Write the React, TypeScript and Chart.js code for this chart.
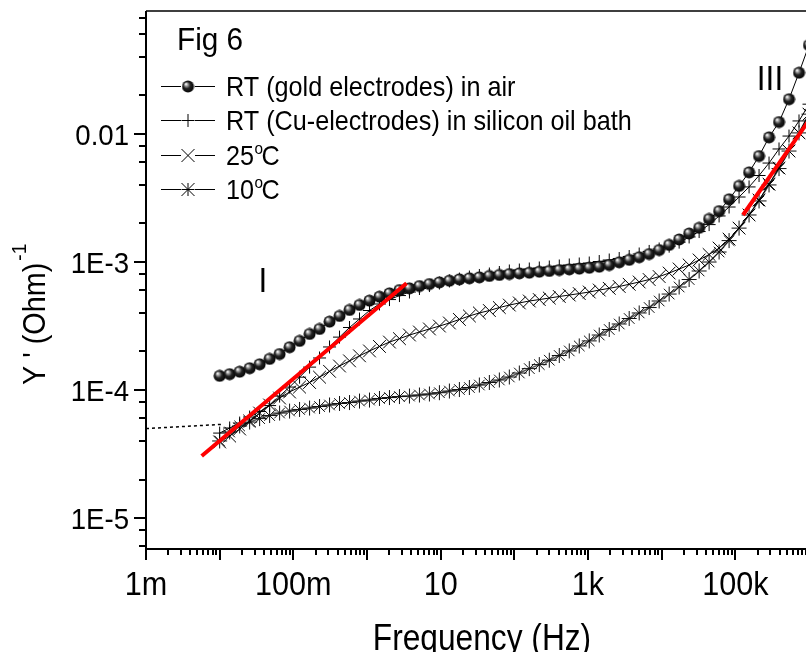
import React, { useEffect, useRef } from 'react';
import { Chart, registerables } from 'chart.js';

Chart.register(...registerables);

// ---------- data ----------
const FREQUENCIES = [
  0.01, 0.01367, 0.01868, 0.02552, 0.03487, 0.04764, 0.0651, 0.08895, 0.1215, 0.1661,
  0.2269, 0.3101, 0.4237, 0.579, 0.7911, 1.081, 1.477, 2.019, 2.759, 3.77,
  5.151, 7.039, 9.618, 13.14, 17.96, 24.54, 33.53, 45.82, 62.6, 85.54,
  116.9, 159.7, 218.3, 298.3, 407.6, 556.9, 761, 1040, 1421, 1942,
  2653, 3625, 4954, 6769, 9249, 12640, 17270, 23600, 32250, 44060,
  60210, 82270, 112400, 153600, 209900, 286800, 391900, 535400, 731600, 1000000,
];

const GOLD_AIR = [
  1.29e-4, 1.33e-4, 1.39e-4, 1.48e-4, 1.59e-4, 1.75e-4, 1.91e-4, 2.16e-4, 2.42e-4, 2.74e-4,
  3.0e-4, 3.42e-4, 3.79e-4, 4.22e-4, 4.62e-4, 4.99e-4, 5.36e-4, 5.69e-4, 6.04e-4, 6.23e-4,
  6.49e-4, 6.73e-4, 6.94e-4, 7.14e-4, 7.32e-4, 7.46e-4, 7.59e-4, 7.78e-4, 7.92e-4, 8.06e-4,
  8.16e-4, 8.25e-4, 8.4e-4, 8.51e-4, 8.66e-4, 8.77e-4, 8.87e-4, 9.02e-4, 9.19e-4, 9.47e-4,
  9.95e-4, 1.04e-3, 1.09e-3, 1.155e-3, 1.24e-3, 1.36e-3, 1.5e-3, 1.67e-3, 1.85e-3, 2.17e-3,
  2.5e-3, 3.09e-3, 3.93e-3, 5.02e-3, 6.73e-3, 9.42e-3, 1.24e-2, 1.87e-2, 3.01e-2, 4.95e-2,
];

const CU_OIL = [
  4.61e-5, 5.05e-5, 5.52e-5, 6.15e-5, 6.79e-5, 7.56e-5, 8.97e-5, 1.055e-4, 1.26e-4, 1.51e-4,
  1.78e-4, 2.17e-4, 2.59e-4, 3.08e-4, 3.59e-4, 4.18e-4, 4.7e-4, 5.09e-4, 5.47e-4, 5.83e-4,
  6.21e-4, 6.55e-4, 6.85e-4, 7.11e-4, 7.36e-4, 7.63e-4, 7.85e-4, 8.06e-4, 8.28e-4, 8.51e-4,
  8.66e-4, 8.82e-4, 8.98e-4, 9.14e-4, 9.31e-4, 9.48e-4, 9.65e-4, 9.82e-4, 1.009e-3, 1.037e-3,
  1.065e-3, 1.104e-3, 1.155e-3, 1.21e-3, 1.264e-3, 1.33e-3, 1.43e-3, 1.57e-3, 1.73e-3, 1.96e-3,
  2.29e-3, 2.69e-3, 3.22e-3, 3.86e-3, 4.74e-3, 5.93e-3, 7.64e-3, 9.64e-3, 1.265e-2, 1.71e-2,
];

const T25 = [
  3.93e-5, 4.37e-5, 4.96e-5, 5.73e-5, 6.61e-5, 7.64e-5, 8.66e-5, 9.65e-5, 1.055e-4, 1.145e-4,
  1.26e-4, 1.4e-4, 1.54e-4, 1.69e-4, 1.85e-4, 2.02e-4, 2.19e-4, 2.37e-4, 2.52e-4, 2.69e-4,
  2.84e-4, 3.0e-4, 3.16e-4, 3.34e-4, 3.56e-4, 3.79e-4, 4.0e-4, 4.18e-4, 4.41e-4, 4.61e-4,
  4.79e-4, 4.96e-4, 5.09e-4, 5.23e-4, 5.38e-4, 5.52e-4, 5.67e-4, 5.83e-4, 6.04e-4, 6.23e-4,
  6.44e-4, 6.7e-4, 6.98e-4, 7.3e-4, 7.7e-4, 8.2e-4, 8.82e-4, 9.48e-4, 1.037e-3, 1.145e-3,
  1.285e-3, 1.51e-3, 1.84e-3, 2.33e-3, 3.05e-3, 4.06e-3, 5.42e-3, 7.36e-3, 1.02e-2, 1.43e-2,
];

const T10 = [
  4.0e-5, 4.7e-5, 5.24e-5, 5.62e-5, 5.98e-5, 6.32e-5, 6.61e-5, 6.85e-5, 7.05e-5, 7.23e-5,
  7.43e-5, 7.64e-5, 7.85e-5, 7.98e-5, 8.2e-5, 8.35e-5, 8.59e-5, 8.73e-5, 8.89e-5, 8.97e-5,
  9.14e-5, 9.31e-5, 9.53e-5, 9.82e-5, 1.009e-4, 1.046e-4, 1.094e-4, 1.145e-4, 1.198e-4, 1.264e-4,
  1.358e-4, 1.47e-4, 1.58e-4, 1.71e-4, 1.86e-4, 2.02e-4, 2.21e-4, 2.42e-4, 2.69e-4, 2.97e-4,
  3.28e-4, 3.62e-4, 4.0e-4, 4.41e-4, 4.96e-4, 5.62e-4, 6.38e-4, 7.3e-4, 8.51e-4, 1.0e-3,
  1.197e-3, 1.47e-3, 1.84e-3, 2.33e-3, 3.0e-3, 4.0e-3, 5.37e-3, 7.36e-3, 1.02e-2, 1.43e-2,
];

// red fit lines (region I and III) and dotted extrapolation
const FIT_I_X = [0.0057, 3.44];
const FIT_I_Y = [3.05e-5, 6.82e-4];
const FIT_III_X = [1.27e5, 1.0e6];
const FIT_III_Y = [2.33e-3, 1.28e-2];
const EXTRAP_X = [0.001, 0.0112];
const EXTRAP_Y = [5.0e-5, 5.4e-5];

// axes
const X_MIN = 1e-3;
const X_MAX = 1e6;
const Y_MIN = 5.73e-6;
const Y_MAX = 0.0914;
const X_TICK_VALUES = [1e-3, 1e-1, 1e1, 1e3, 1e5];
const X_TICK_LABELS = ['1m', '100m', '10', '1k', '100k'];
const Y_TICK_VALUES = [1e-5, 1e-4, 1e-3, 1e-2];
const Y_TICK_LABELS = ['1E-5', '1E-4', '1E-3', '0.01'];

const X_TITLE = 'Frequency (Hz)';
const Y_TITLE = "Y ' (Ohm)";
const Y_TITLE_SUP = '-1';
const FIG_LABEL = 'Fig 6';
const REGION_LABELS = ['I', 'III'];
const LEGEND_LABELS = [
  { main: 'RT (gold electrodes) in air', sup: '', tail: '' },
  { main: 'RT (Cu-electrodes) in silicon oil bath', sup: '', tail: '' },
  { main: '25', sup: 'o', tail: 'C' },
  { main: '10', sup: 'o', tail: 'C' },
];

const FONT = '"Liberation Sans", Arial, sans-serif';

function pts(xs: number[], ys: number[]) {
  return xs.map((x, i) => ({ x, y: ys[i] }));
}

function txt(ctx: CanvasRenderingContext2D, s: string, x: number, y: number, size: number, sx = 1, align: CanvasTextAlign = 'left') {
  ctx.save();
  ctx.font = `${size}px ${FONT}`;
  ctx.textAlign = align;
  ctx.textBaseline = 'alphabetic';
  ctx.fillStyle = '#000';
  ctx.translate(x, y);
  ctx.scale(sx, 1);
  ctx.fillText(s, 0, 0);
  const w = ctx.measureText(s).width * sx;
  ctx.restore();
  return w;
}

function makeBall() {
  const c = document.createElement('canvas');
  c.width = 13;
  c.height = 13;
  const b = c.getContext('2d')!;
  const g = b.createRadialGradient(4.3, 4, 0.4, 6.5, 6.5, 6.5);
  g.addColorStop(0, '#ffffff');
  g.addColorStop(0.18, '#a8a8a8');
  g.addColorStop(0.5, '#222222');
  g.addColorStop(1, '#000000');
  b.fillStyle = g;
  b.beginPath();
  b.arc(6.5, 6.5, 6, 0, Math.PI * 2);
  b.fill();
  return c;
}

function drawMarker(ctx: CanvasRenderingContext2D, kind: string, x: number, y: number, ball: HTMLCanvasElement) {
  ctx.save();
  ctx.strokeStyle = '#000';
  ctx.lineWidth = 1;
  ctx.beginPath();
  if (kind === 'ball') {
    ctx.drawImage(ball, x - 6.5, y - 6.5);
  } else {
    const r = 6.5;
    if (kind === 'cross' || kind === 'star') {
      ctx.moveTo(x - r, y); ctx.lineTo(x + r, y);
      ctx.moveTo(x, y - r); ctx.lineTo(x, y + r);
    }
    if (kind === 'x' || kind === 'star') {
      ctx.moveTo(x - r, y - r); ctx.lineTo(x + r, y + r);
      ctx.moveTo(x - r, y + r); ctx.lineTo(x + r, y - r);
    }
    ctx.stroke();
  }
  ctx.restore();
}

export default function App() {
  const ref = useRef<HTMLCanvasElement>(null);

  useEffect(() => {
    const canvas = ref.current;
    if (!canvas) return;
    const ball = makeBall();

    const decor = {
      id: 'decor',
      afterDraw(chart: any) {
        const ctx: CanvasRenderingContext2D = chart.ctx;
        const a = chart.chartArea;
        const xs = chart.scales.x;
        const ys = chart.scales.y;
        ctx.save();
        ctx.strokeStyle = '#000';
        ctx.lineCap = 'butt';

        // frame
        ctx.lineWidth = 2;
        ctx.beginPath();
        ctx.moveTo(a.left, a.top); ctx.lineTo(a.left, a.bottom + 1);
        ctx.moveTo(a.left - 1, a.bottom); ctx.lineTo(a.right, a.bottom);
        ctx.stroke();
        ctx.lineWidth = 1.5;
        ctx.beginPath();
        ctx.moveTo(a.left, a.top); ctx.lineTo(a.right, a.top);
        ctx.moveTo(a.right, a.top); ctx.lineTo(a.right, a.bottom);
        ctx.stroke();

        // y ticks
        ctx.lineWidth = 2;
        ctx.beginPath();
        for (let n = -6; n <= -1; n++) {
          for (const m of [1, 2, 4, 6, 8]) {
            const v = m * Math.pow(10, n);
            if (v < Y_MIN || v > Y_MAX) continue;
            const py = Math.round(ys.getPixelForValue(v));
            const len = m === 1 ? 12 : 7;
            ctx.moveTo(a.left - len, py);
            ctx.lineTo(a.left, py);
          }
        }
        // x ticks
        for (let n = -3; n <= 6; n++) {
          for (let m = 1; m <= 9; m++) {
            const v = m * Math.pow(10, n);
            if (v < X_MIN * 0.999 || v > X_MAX * 1.001) continue;
            const px = Math.round(xs.getPixelForValue(v));
            const len = m === 1 ? 11 : 6;
            ctx.moveTo(px, a.bottom);
            ctx.lineTo(px, a.bottom + len);
          }
        }
        ctx.stroke();

        // tick labels
        Y_TICK_VALUES.forEach((v, i) => {
          const py = ys.getPixelForValue(v);
          txt(ctx, Y_TICK_LABELS[i], 129, py + 10.5, 30, 0.92, 'right');
        });
        X_TICK_VALUES.forEach((v, i) => {
          const px = xs.getPixelForValue(v);
          txt(ctx, X_TICK_LABELS[i], px, 595, 34, 0.9, 'center');
        });

        // axis titles
        txt(ctx, X_TITLE, 482, 650, 36, 0.88, 'center');
        ctx.save();
        ctx.translate(45, 385);
        ctx.rotate(-Math.PI / 2);
        const tw = txt(ctx, Y_TITLE, 0, 0, 32, 0.9, 'left');
        txt(ctx, Y_TITLE_SUP, tw + 2, -19, 20, 0.95, 'left');
        ctx.restore();

        // figure label and region labels
        txt(ctx, FIG_LABEL, 177, 50, 32, 0.93, 'left');
        txt(ctx, REGION_LABELS[0], 263, 292, 35, 0.9, 'center');
        txt(ctx, REGION_LABELS[1], 770, 90, 35, 0.9, 'center');

        // legend
        const rows = [86, 120, 155, 189];
        const kinds = ['ball', 'cross', 'x', 'star'];
        rows.forEach((cy, i) => {
          ctx.lineWidth = 1;
          ctx.strokeStyle = '#000';
          ctx.beginPath();
          ctx.moveTo(161, cy + 0.5); ctx.lineTo(181, cy + 0.5);
          ctx.moveTo(195, cy + 0.5); ctx.lineTo(215, cy + 0.5);
          ctx.stroke();
          drawMarker(ctx, kinds[i], 188, cy + 0.5, ball);
          const L = LEGEND_LABELS[i];
          const base = cy + 10;
          const w = txt(ctx, L.main, 226, base, 28, 0.9, 'left');
          if (L.sup) {
            const w2 = txt(ctx, L.sup, 226 + w + 0.5, base - 11, 17, 0.9, 'left');
            txt(ctx, L.tail, 226 + w + w2 - 1, base, 28, 0.9, 'left');
          }
        });
        ctx.restore();
      },
    };

    const chart = new Chart(canvas, {
      type: 'line',
      data: {
        datasets: [
          {
            label: 'fit I',
            data: pts(FIT_I_X, FIT_I_Y),
            borderColor: '#ff0000',
            borderWidth: 4,
            pointRadius: 0,
            order: 0,
          },
          {
            label: 'fit III',
            data: pts(FIT_III_X, FIT_III_Y),
            borderColor: '#ff0000',
            borderWidth: 4,
            pointRadius: 0,
            order: 0,
          },
          {
            label: LEGEND_LABELS[0].main,
            data: pts(FREQUENCIES, GOLD_AIR),
            borderColor: '#000',
            borderWidth: 1,
            pointStyle: ball as any,
            pointRadius: 6,
            order: 1,
          },
          {
            label: LEGEND_LABELS[1].main,
            data: pts(FREQUENCIES, CU_OIL),
            borderColor: '#000',
            borderWidth: 1,
            pointStyle: 'cross',
            pointRadius: 6.5,
            pointBorderColor: '#000',
            pointBorderWidth: 1,
            pointBackgroundColor: 'rgba(0,0,0,0)',
            order: 2,
          },
          {
            label: '25oC',
            data: pts(FREQUENCIES, T25),
            borderColor: '#000',
            borderWidth: 1,
            pointStyle: 'crossRot',
            pointRadius: 9,
            pointBorderColor: '#000',
            pointBorderWidth: 1,
            pointBackgroundColor: 'rgba(0,0,0,0)',
            order: 3,
          },
          {
            label: '10oC',
            data: pts(FREQUENCIES, T10),
            borderColor: '#555',
            borderWidth: 1.5,
            pointStyle: 'star',
            pointRadius: 7.5,
            pointBorderColor: '#111',
            pointBorderWidth: 1,
            pointBackgroundColor: 'rgba(0,0,0,0)',
            order: 4,
          },
          {
            label: 'extrapolation',
            data: pts(EXTRAP_X, EXTRAP_Y),
            borderColor: '#000',
            borderWidth: 1.5,
            borderDash: [3, 3],
            pointRadius: 0,
            order: 5,
          },
        ],
      },
      options: {
        animation: false,
        responsive: false,
        maintainAspectRatio: false,
        devicePixelRatio: 1,
        events: [],
        layout: { padding: { left: 146, top: 11, right: 31, bottom: 131 } },
        elements: { line: { tension: 0 } },
        plugins: { legend: { display: false }, tooltip: { enabled: false }, title: { display: false } },
        scales: {
          x: { type: 'logarithmic', min: X_MIN, max: X_MAX, display: false, bounds: 'data' },
          y: { type: 'logarithmic', min: Y_MIN, max: Y_MAX, display: false, bounds: 'data' },
        },
      } as any,
      plugins: [decor],
    });
    return () => chart.destroy();
  }, []);

  return (
    <div style={{ position: 'fixed', left: 0, top: 0, width: 806, height: 652, overflow: 'hidden', background: '#fff' }}>
      <canvas ref={ref} width={840} height={680} style={{ display: 'block', width: 840, height: 680 }} />
    </div>
  );
}
